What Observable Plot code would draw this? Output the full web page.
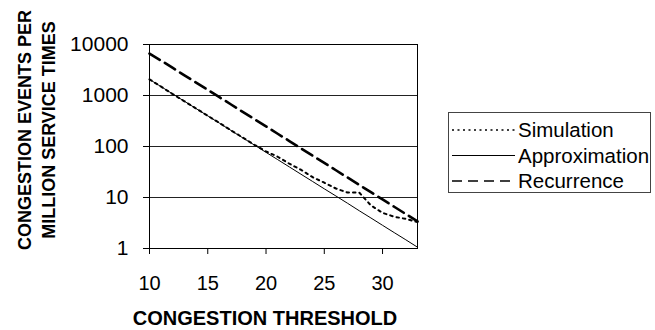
<!DOCTYPE html>
<html>
<head>
<meta charset="utf-8">
<script src="https://cdn.jsdelivr.net/npm/d3@7"></script>
<script src="https://cdn.jsdelivr.net/npm/@observablehq/plot@0.6"></script>
<style>
  html, body { margin: 0; padding: 0; background: white; }
  #chart { width: 655px; height: 330px; }
</style>
</head>
<body>
<div id="chart"></div>
<script>
const thresholds = [10,11,12,13,14,15,16,17,18,19,20,21,22,23,24,25,26,27,28,29,30,31,32,33];
const simulation = [2070,1490,1060,770,555,400,290,207,150,108,80,63,46,35,25,19.5,15,12.5,12.5,7,5,4.2,3.8,3.3];
const approximation = [2070,1488,1070,770,554,399,287,206,148,107,76.8,55.3,39.8,28.6,20.6,14.8,10.7,7.7,5.5,3.97,2.85,2.05,1.48,1.06];
const recurrence = [6650,4820,3470,2490,1790,1290,926,666,479,344,248,178,128,92,66,47.6,34.2,24.6,17.7,12.7,9.15,6.58,4.73,3.4];
const xTicks = [10,15,20,25,30];
const yTicks = [1,10,100,1000,10000];
const seriesNames = ["Simulation","Approximation","Recurrence"];
const xLabel = "CONGESTION THRESHOLD";
const yLabelLines = ["CONGESTION EVENTS PER","MILLION SERVICE TIMES"];

const rows = thresholds.map((t, i) => ({t, sim: simulation[i], approx: approximation[i], rec: recurrence[i]}));
const FONT = "'Liberation Sans', Arial, sans-serif";

const styles = {
  Simulation: {stroke: "black", strokeWidth: 2, strokeDasharray: "2.5,4"},
  Approximation: {stroke: "black", strokeWidth: 1},
  Recurrence: {stroke: "black", strokeWidth: 2.6, strokeDasharray: "12,6"}
};

const chart = Plot.plot({
  width: 655,
  height: 330,
  marginLeft: 149,
  marginRight: 238,
  marginTop: 44,
  marginBottom: 82,
  style: {fontFamily: FONT, background: "white", color: "black"},
  x: {domain: [10, 33], label: null},
  y: {type: "log", domain: [1, 10000], label: null},
  marks: [
    Plot.ruleY(yTicks, {stroke: "#222", strokeWidth: 1}),
    Plot.frame({stroke: "black", strokeWidth: 1}),
    Plot.axisX({ticks: xTicks, tickSize: 6, tickPadding: 21, fontSize: 20, tickFormat: d => String(d), label: null}),
    Plot.axisY({ticks: yTicks, tickSize: 6, tickPadding: 15, fontSize: 21, tickFormat: d => String(d), label: null}),
    Plot.line(rows, {x: "t", y: "approx", ...styles.Approximation}),
    Plot.line(rows, {x: "t", y: "sim", ...styles.Simulation}),
    Plot.line(rows, {x: "t", y: "rec", ...styles.Recurrence})
  ]
});

const svg = d3.select(chart);

// Axis titles
svg.append("text")
  .attr("x", 265).attr("y", 325)
  .attr("text-anchor", "middle")
  .attr("font-family", FONT).attr("font-weight", "bold").attr("font-size", 20)
  .attr("fill", "black")
  .text(xLabel);

yLabelLines.forEach((line, i) => {
  svg.append("text")
    .attr("transform", `translate(${31 + i * 24},130) rotate(-90)`)
    .attr("text-anchor", "middle")
    .attr("font-family", FONT).attr("font-weight", "bold").attr("font-size", 18)
    .attr("fill", "black")
    .text(line);
});

// Legend
const lg = svg.append("g");
lg.append("rect")
  .attr("x", 448.5).attr("y", 112.5).attr("width", 202).attr("height", 80)
  .attr("fill", "white").attr("stroke", "#444").attr("stroke-width", 1);
seriesNames.forEach((name, i) => {
  const y = 130 + i * 25.5;
  const s = styles[name];
  lg.append("line")
    .attr("x1", 452).attr("x2", 515).attr("y1", y).attr("y2", y)
    .attr("stroke", s.stroke)
    .attr("stroke-width", name === "Simulation" ? 1.5 : (name === "Approximation" ? 1 : 1.5))
    .attr("stroke-dasharray", name === "Simulation" ? "2,3.5" : (name === "Recurrence" ? "10,6" : null));
  lg.append("text")
    .attr("x", 518).attr("y", y).attr("dy", "0.35em")
    .attr("text-anchor", "start")
    .attr("font-family", FONT).attr("font-size", 20.5).attr("fill", "black")
    .text(name);
});

document.getElementById("chart").appendChild(chart);
</script>
</body>
</html>
